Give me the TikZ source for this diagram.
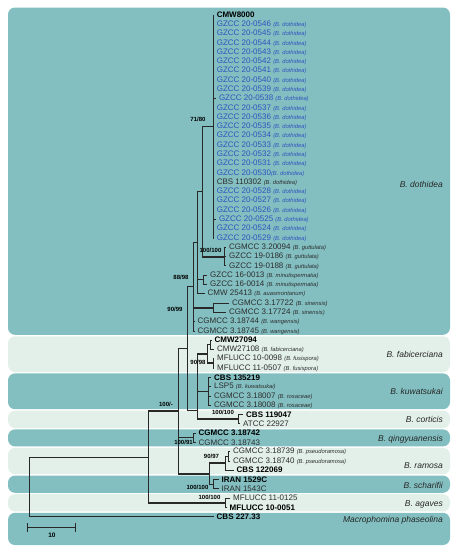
\documentclass[tikz,border=0pt]{standalone}
\usepackage{fontspec}
\setmainfont{Liberation Sans}
\usetikzlibrary{arrows.meta}
\definecolor{cladedark}{RGB}{131,191,193}
\definecolor{cladelight}{RGB}{227,240,234}
\definecolor{gzblue}{RGB}{48,82,190}
\definecolor{taxgray}{RGB}{45,45,45}
\definecolor{treeline}{RGB}{40,40,40}
\newcommand{\ty}[1]{15+9.29*#1}
\newcommand{\spc}[1]{{\fontsize{5.8}{6}\selectfont\itshape(#1)}}
\tikzset{
  darkband/.style={fill=cladedark, rounded corners=7pt},
  lightband/.style={fill=cladelight, rounded corners=7pt},
  taxon/.style={anchor=west, inner xsep=3pt, inner ysep=0pt, font=\fontsize{8}{9}\selectfont, text=taxgray},
  gztaxon/.style={taxon, text=gzblue},
  typetaxon/.style={taxon, font=\fontsize{8}{9}\selectfont\bfseries, text=black},
  cladename/.style={anchor=east, inner sep=0pt, font=\fontsize{8.5}{9}\selectfont\itshape, text=black!85},
  support/.style={inner sep=0pt, font=\fontsize{6}{7}\selectfont\bfseries},
  branch/.style={draw=treeline, line width=0.7pt},
  strongbranch/.style={draw=treeline, line width=1.8pt}
}

\begin{document}
\begin{tikzpicture}[x=1pt, y=-1pt]
  \useasboundingbox (0,0) rectangle (456,550);

  % clade bands
  \fill[darkband] (8,7.5) rectangle (450,334.8);
  \fill[lightband] (8,336.3) rectangle (450,372);
  \fill[darkband] (8,373.4) rectangle (450,409.2);
  \fill[lightband] (8,410.6) rectangle (450,428);
  \fill[darkband] (8,429.4) rectangle (450,446.4);
  \fill[lightband] (8,447.8) rectangle (450,474.2);
  \fill[darkband] (8,475.6) rectangle (450,492.8);
  \fill[lightband] (8,494.2) rectangle (450,511.4);
  \fill[darkband] (8,512.8) rectangle (450,545);

  \node[cladename] (dothidea) at (443,184) {B. dothidea};
  \node[cladename] (fabicerciana) at (443,354) {B. fabicerciana};
  \node[cladename] (kuwatsukai) at (443,391) {B. kuwatsukai};
  \node[cladename] (corticis) at (443,419) {B. corticis};
  \node[cladename] (qingyuanensis) at (443,439.5) {B. qingyuanensis};
  \node[cladename] (ramosa) at (443,466) {B. ramosa};
  \node[cladename] (scharifii) at (443,485) {B. scharifii};
  \node[cladename] (agaves) at (443,504) {B. agaves};
  \node[cladename] (macrophomina) at (443,520.5) {Macrophomina phaseolina};

  % internal nodes
  \coordinate (nDot) at (213,126.5);
  \coordinate (nA) at (202,191.5);
  \coordinate (nGut) at (224.5,256.6);
  \coordinate (nB) at (197.5,242.6);
  \coordinate (nMin) at (203,279.75);
  \coordinate (nSin) at (213,307.65);
  \coordinate (nCx) at (193.3,286.75);
  \coordinate (nFab1) at (210,344.8);
  \coordinate (nFab2) at (213,363.35);
  \coordinate (nFab) at (207.3,354.1);
  \coordinate (nKuw) at (208.3,391.25);
  \coordinate (nCor) at (238,419.15);
  \coordinate (nF) at (197.3,410);
  \coordinate (nE) at (187,348.4);
  \coordinate (nQing) at (193,437.7);
  \coordinate (nRam1) at (228.5,456.25);
  \coordinate (nRam) at (225,463.2);
  \coordinate (nSch) at (213,484.15);
  \coordinate (nRS) at (209,473.7);
  \coordinate (n100) at (178,411);
  \coordinate (nAga) at (225.5,502.75);
  \coordinate (n148) at (148.3,456.9);
  \coordinate (root) at (29.3,486.8);

  % B. dothidea
  \node[typetaxon] (cmw8000) at (213.6,{\ty{0}}) {CMW8000};
  \draw[branch] (nDot) |- (cmw8000.west);
  \foreach \n/\tx [count=\i] in {0546/213.6,0545/213.6,0544/213.6,0543/213.6,0542/213.6,0541/213.6,0540/213.6,0539/213.6,0538/215.8,0537/213.6,0536/213.6,0535/213.6,0534/213.6,0533/213.6,0532/213.6,0531/213.6}{
    \node[gztaxon] (g\n) at (\tx,{\ty{\i}}) {GZCC 20-\n\ \spc{B. dothidea}};
    \draw[branch] (nDot) |- (g\n.west);
  }
  \node[gztaxon] (g0530) at (213.6,{\ty{17}}) {GZCC 20-0530\spc{B. dothidea}};
  \node[taxon] (cbs110302) at (213.6,{\ty{18}}) {CBS 110302 \spc{B. dothidea}};
  \draw[branch] (nDot) |- (g0530.west);
  \draw[branch] (nDot) |- (cbs110302.west);
  \foreach \n/\tx [count=\i from 19] in {0528/213.6,0527/213.6,0526/213.6,0525/215.8,0524/213.6,0529/213.6}{
    \node[gztaxon] (g\n) at (\tx,{\ty{\i}}) {GZCC 20-\n\ \spc{B. dothidea}};
    \draw[branch] (nDot) |- (g\n.west);
  }

  % dothidea complex
  \node[taxon] (cgmcc320094) at (226,{\ty{25}}) {CGMCC 3.20094 \spc{B. guttulata}};
  \node[taxon] (gzcc190186) at (226,{\ty{26}}) {GZCC 19-0186 \spc{B. guttulata}};
  \node[taxon] (gzcc190188) at (226,{\ty{27}}) {GZCC 19-0188 \spc{B. guttulata}};
  \node[taxon] (gzcc160013) at (207,{\ty{28}}) {GZCC 16-0013 \spc{B. minutispermatia}};
  \node[taxon] (gzcc160014) at (207,{\ty{29}}) {GZCC 16-0014 \spc{B. minutispermatia}};
  \node[taxon] (cmw25413) at (204.5,{\ty{30}}) {CMW 25413 \spc{B. auasmontanum}};
  \node[taxon] (cgmcc317722) at (229,{\ty{31}}) {CGMCC 3.17722 \spc{B. sinensis}};
  \node[taxon] (cgmcc317724) at (226,{\ty{32}}) {CGMCC 3.17724 \spc{B. sinensis}};
  \node[taxon] (cgmcc318744) at (194.5,{\ty{33}}) {CGMCC 3.18744 \spc{B. wangensis}};
  \node[taxon] (cgmcc318745) at (194.5,{\ty{34}}) {CGMCC 3.18745 \spc{B. wangensis}};

  \draw[branch] (nA) -- (nA |- nDot);
  \draw[strongbranch] (nA |- nDot) -- (nDot);
  \draw[branch] (nA) -- (nA |- nGut);
  \draw[strongbranch] (nA |- nGut) -- (nGut);
  \foreach \t in {cgmcc320094,gzcc190186,gzcc190188}
    \draw[branch] (nGut) |- (\t.west);
  \draw[branch] (nB) |- (nA);
  \draw[branch] (nB) |- (nMin);
  \draw[branch] (nB) |- (cmw25413.west);
  \draw[branch] (nMin) |- (gzcc160013.west);
  \draw[branch] (nMin) |- (gzcc160014.west);
  \draw[branch] (nCx) |- (nB);
  \draw[branch] (nCx) -- (nCx |- nSin);
  \draw[strongbranch] (nCx |- nSin) -- (nSin);
  \draw[branch] (nSin) |- (cgmcc317722.west);
  \draw[branch] (nSin) |- (cgmcc317724.west);
  \draw[branch] (nCx) |- (cgmcc318744.west);
  \draw[branch] (nCx) |- (cgmcc318745.west);

  % fabicerciana, kuwatsukai, corticis
  \node[typetaxon] (cmw27094) at (211.5,{\ty{35}}) {CMW27094};
  \node[taxon] (cmw27108) at (214,{\ty{36}}) {CMW27108 \spc{B. fabicerciana}};
  \node[taxon] (mflucc100098) at (214,{\ty{37}}) {MFLUCC 10-0098 \spc{B. fusispora}};
  \node[taxon] (mflucc110507) at (214,{\ty{38}}) {MFLUCC 11-0507 \spc{B. fusispora}};
  \node[typetaxon] (cbs135219) at (211,{\ty{39}}) {CBS 135219};
  \node[taxon] (lsp5) at (211,{\ty{40}}) {LSP5 \spc{B. kuwatsukai}};
  \node[taxon] (cgmcc318007) at (211,{\ty{41}}) {CGMCC 3.18007 \spc{B. rosaceae}};
  \node[taxon] (cgmcc318008) at (211,{\ty{42}}) {CGMCC 3.18008 \spc{B. rosaceae}};
  \node[typetaxon] (cbs119047) at (243,{\ty{43}}) {CBS 119047};
  \node[taxon] (atcc22927) at (240,{\ty{44}}) {ATCC 22927};

  \draw[branch] (nFab1) |- (cmw27094.west);
  \draw[branch] (nFab1) |- (cmw27108.west);
  \draw[branch] (nFab2) |- (mflucc100098.west);
  \draw[branch] (nFab2) |- (mflucc110507.west);
  \draw[branch] (nFab) |- (nFab1);
  \draw[branch] (nFab) -- (nFab |- nFab2);
  \draw[strongbranch] (nFab |- nFab2) -- (nFab2);
  \foreach \t in {cbs135219,lsp5,cgmcc318007,cgmcc318008}
    \draw[branch] (nKuw) |- (\t.west);
  \draw[branch] (nCor) |- (cbs119047.west);
  \draw[branch] (nCor) |- (atcc22927.west);
  \draw[branch] (nF) -- (nF |- nFab);
  \draw[strongbranch] (nF |- nFab) -- (nFab);
  \draw[branch] (nF) |- (nKuw);
  \draw[branch] (nF) -- (nF |- nCor);
  \draw[strongbranch] (nF |- nCor) -- (nCor);
  \draw[branch] (nE) |- (nCx);
  \draw[branch] (nE) |- (nF);

  % qingyuanensis, ramosa, scharifii, agaves
  \node[typetaxon] (cgmcc318742) at (195.5,{\ty{45}}) {CGMCC 3.18742};
  \node[taxon] (cgmcc318743) at (195.5,{\ty{46}}) {CGMCC 3.18743};
  \node[taxon] (cgmcc318739) at (230,{\ty{47}}) {CGMCC 3.18739 \spc{B. pseudoramosa}};
  \node[taxon] (cgmcc318740) at (230,{\ty{48}}) {CGMCC 3.18740 \spc{B. pseudoramosa}};
  \node[typetaxon] (cbs122069) at (233.5,{\ty{49}}) {CBS 122069};
  \node[typetaxon] (iran1529c) at (218.5,{\ty{50}}) {IRAN 1529C};
  \node[taxon] (iran1543c) at (218.5,{\ty{51}}) {IRAN 1543C};
  \node[taxon] (mflucc110125) at (230,{\ty{52}}) {MFLUCC 11-0125};
  \node[typetaxon] (mflucc100051) at (226.5,{\ty{53}}) {MFLUCC 10-0051};
  \node[typetaxon] (cbs22733) at (213.5,{\ty{54}}) {CBS 227.33};

  \draw[branch] (nQing) |- (cgmcc318742.west);
  \draw[branch] (nQing) |- (cgmcc318743.west);
  \draw[branch] (nRam1) |- (cgmcc318739.west);
  \draw[branch] (nRam1) |- (cgmcc318740.west);
  \draw[branch] (nRam) |- (nRam1);
  \draw[branch] (nRam) |- (cbs122069.west);
  \draw[branch] (nSch) |- (iran1529c.west);
  \draw[branch] (nSch) |- (iran1543c.west);
  \draw[branch] (nRS) -- (nRS |- nRam);
  \draw[strongbranch] (nRS |- nRam) -- (nRam);
  \draw[branch] (nRS) |- (nSch);
  \draw[branch] (n100) |- (nE);
  \draw[branch] (n100) |- (nQing);
  \draw[branch] (n100) -- (n100 |- nRS);
  \draw[strongbranch] (n100 |- nRS) -- (nRS);
  \draw[branch] (nAga) |- (mflucc110125.west);
  \draw[branch] (nAga) |- (mflucc100051.west);
  \draw[branch] (n148) -- (n148 |- n100);
  \draw[strongbranch] (n148 |- n100) -- (n100);
  \draw[branch] (n148) -- (n148 |- nAga);
  \draw[strongbranch] (n148 |- nAga) -- (nAga);
  \draw[branch] (root) |- (n148);
  \draw[branch] (root) |- (cbs22733.west);

  % support values
  \node[support] (s7180) at (198,119.5) {71/80};
  \node[support] (sgut) at (210.5,250) {100/100};
  \node[support] (s8898) at (181,277) {88/98};
  \node[support] (s9099) at (175,309.5) {90/99};
  \node[support] (s9098) at (198,362.5) {90/98};
  \node[support] (s100) at (166,404.5) {100/-};
  \node[support] (scor) at (223,412) {100/100};
  \node[support] (s10091) at (183.5,442.5) {100/91};
  \node[support] (s9097) at (211.5,456) {90/97};
  \node[support] (ssch) at (197.5,487) {100/100};
  \node[support] (saga) at (209.5,497.5) {100/100};

  % scale bar
  \coordinate (barL) at (27.3,527.3);
  \coordinate (barR) at (76,527.3);
  \draw[treeline, line width=0.9pt, {Bar[width=9pt]}-{Bar[width=9pt]}] (barL) -- (barR);
  \node[support, font=\fontsize{6.5}{7}\selectfont\bfseries] (barlab) at (52,535) {10};
\end{tikzpicture}
\end{document}
